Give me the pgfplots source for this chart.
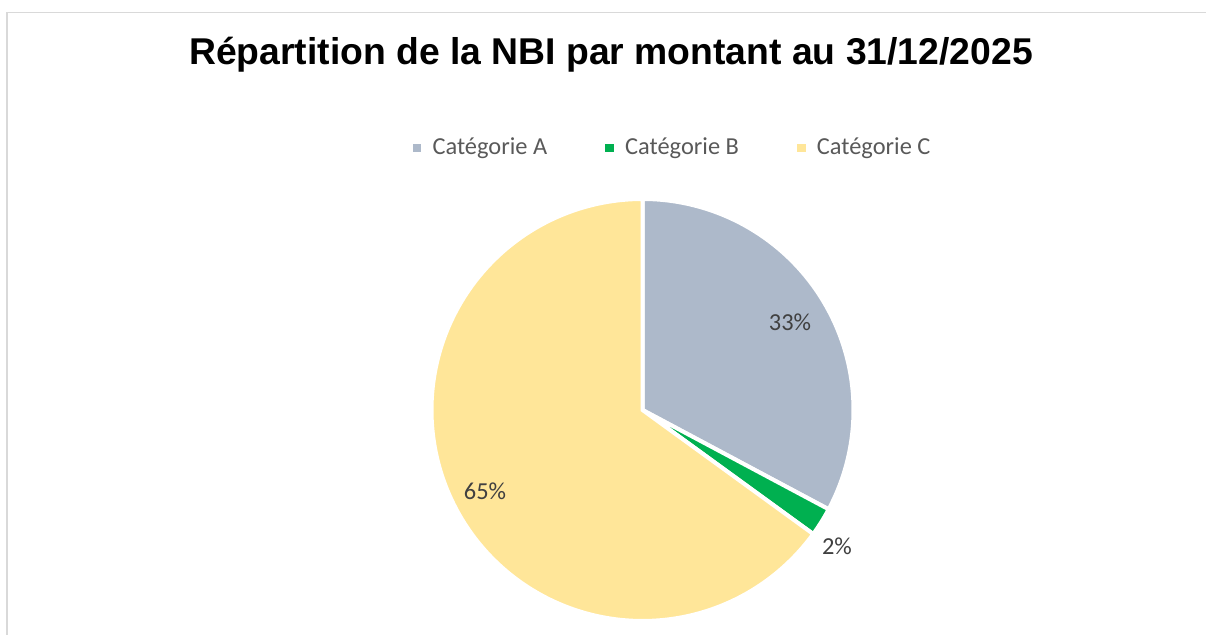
\documentclass[border=0pt]{standalone}
\usepackage{pgfplots}
\pgfplotsset{compat=1.18}
\usepackage{pgfplotstable}
\usepackage{fontspec}
\setmainfont{Carlito}
\newfontfamily\titlefont{Liberation Sans}
\definecolor{catA}{HTML}{ADB9CA}
\definecolor{catB}{HTML}{00B050}
\definecolor{catC}{HTML}{FFE699}
\definecolor{legendgray}{HTML}{595959}
\definecolor{labelgray}{HTML}{404040}
\definecolor{framegray}{HTML}{D9D9D9}
\pgfplotstableread{
cat value
A 32.8
B 2.2
C 65.0
}\piedata
\begin{document}%
\begin{tikzpicture}
\pgfplotstablegetelem{0}{value}\of\piedata \let\va\pgfplotsretval
\pgfplotstablegetelem{1}{value}\of\piedata \let\vb\pgfplotsretval
\pgfplotstablegetelem{2}{value}\of\piedata \let\vc\pgfplotsretval
\pgfmathsetmacro\aA{90}
\pgfmathsetmacro\aB{90-3.6*\va}
\pgfmathsetmacro\aC{\aB-3.6*\vb}
\pgfmathsetmacro\aD{\aC-3.6*\vc}
\begin{axis}[
  scale only axis, width=603pt, height=317.5pt,
  xmin=0, xmax=1206, ymin=0, ymax=635,
  axis lines=none, clip=false,
  legend columns=3,
  legend image code/.code={\fill[#1,draw=none] (0pt,-2.2pt) rectangle (4.4pt,2.2pt); \path (7pt,0pt);},
  legend style={at={(axis cs:673.5,487)}, anchor=center, draw=none, fill=none,
    font=\fontsize{12.2pt}{14pt}\selectfont, text=legendgray,
    /tikz/every even column/.append style={column sep=27pt}},
]
\coordinate (ll) at (axis cs:0,0);
\coordinate (ur) at (axis cs:1206,635);
\draw[framegray, line width=0.85pt] (axis cs:7,622.5) rectangle (axis cs:1260,-40);
\addplot[fill=catA, draw=white, line width=2pt, domain=\aB:\aA, samples=120]
  ({642.5+211*cos(x)},{225+211*sin(x)}) -- (axis cs:642.5,225) -- cycle;
\addlegendentry{Catégorie A}
\addplot[fill=catB, draw=white, line width=2pt, domain=\aC:\aB, samples=20]
  ({642.5+211*cos(x)},{225+211*sin(x)}) -- (axis cs:642.5,225) -- cycle;
\addlegendentry{Catégorie B}
\addplot[fill=catC, draw=white, line width=2pt, domain=\aD:\aC, samples=200]
  ({642.5+211*cos(x)},{225+211*sin(x)}) -- (axis cs:642.5,225) -- cycle;
\addlegendentry{Catégorie C}
\node[anchor=base, font=\titlefont\bfseries\fontsize{18.65pt}{21pt}\selectfont, text=black]
  at (axis cs:611,570) {Répartition de la NBI par montant au 31/12/2025};
\node[anchor=base, font=\fontsize{12.2pt}{14pt}\selectfont, text=labelgray] at (axis cs:790,304) {33\%};
\node[anchor=base, font=\fontsize{12.2pt}{14pt}\selectfont, text=labelgray] at (axis cs:485,135) {65\%};
\node[anchor=base, font=\fontsize{12.2pt}{14pt}\selectfont, text=labelgray] at (axis cs:837,80) {2\%};
\end{axis}
\pgfresetboundingbox
\path[use as bounding box] (ll) rectangle (ur);
\end{tikzpicture}%
\end{document}
